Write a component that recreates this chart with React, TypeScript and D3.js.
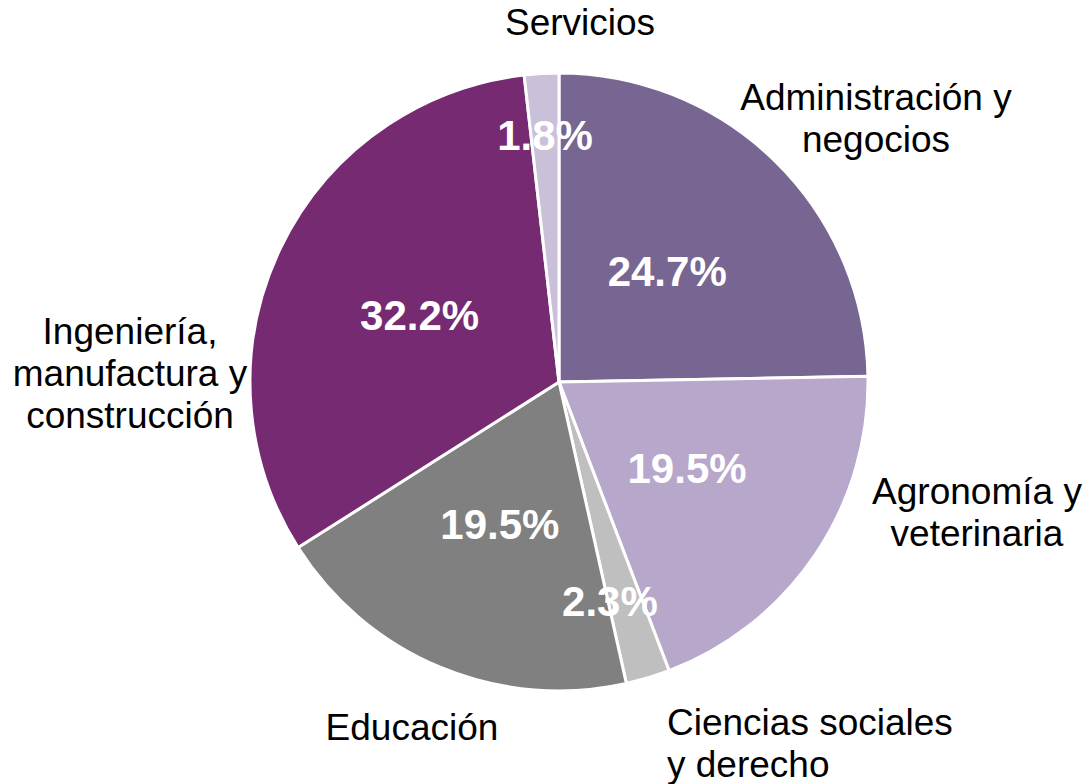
import React from "react";
import * as d3 from "d3";

const categories = [
  "Administración y negocios",
  "Agronomía y veterinaria",
  "Ciencias sociales y derecho",
  "Educación",
  "Ingeniería, manufactura y construcción",
  "Servicios",
];
const labelLines = [
  ["Administración y", "negocios"],
  ["Agronomía y", "veterinaria"],
  ["Ciencias sociales", "y derecho"],
  ["Educación"],
  ["Ingeniería,", "manufactura y", "construcción"],
  ["Servicios"],
];
const values = [24.7, 19.5, 2.3, 19.5, 32.2, 1.8];
const colors = ["#776592", "#b7a7cb", "#bfbfbf", "#808080", "#762a71", "#cbc0da"];

// layout (not data): percent label radius factor, category label center (dx,dy from pie center), anchor
const pctRadius = [0.5, 0.5, 0.73, 0.5, 0.5, 0.8];
const pctNudge = [[0, 0], [0, 0], [-14, 3], [0, 0], [0, 0], [0, 0]];
const catLayout: { dx: number; dy: number; anchor: string }[] = [
  { dx: 317, dy: -264, anchor: "middle" },
  { dx: 418, dy: 130, anchor: "middle" },
  { dx: 108, dy: 361, anchor: "start" },
  { dx: -147, dy: 345, anchor: "middle" },
  { dx: -429, dy: -9, anchor: "middle" },
  { dx: 21, dy: -360, anchor: "middle" },
];

export default function App() {
  const W = 1087;
  const H = 784;
  const cx = 559;
  const cy = 382;
  const R = 309;
  const pie = d3.pie<number>().sort(null).value((d) => d);
  const arcs = pie(values);
  const arc = d3.arc<d3.PieArcDatum<number>>().innerRadius(0).outerRadius(R);
  const font = "'Liberation Sans', Arial, sans-serif";
  const lineH = 42;
  return (
    <svg width={W} height={H} style={{ position: "absolute", left: 0, top: 0, background: "#fff" }}>
      <g transform={`translate(${cx},${cy})`}>
        {arcs.map((a, i) => (
          <path key={categories[i]} d={arc(a) || ""} fill={colors[i]} stroke="#fff" strokeWidth={3} strokeLinejoin="round" />
        ))}
        {arcs.map((a, i) => {
          const mid = (a.startAngle + a.endAngle) / 2;
          const r = R * pctRadius[i];
          const x = Math.sin(mid) * r + pctNudge[i][0];
          const y = -Math.cos(mid) * r + pctNudge[i][1];
          return (
            <text key={"p" + i} x={x} y={y} dy="0.35em" textAnchor="middle" fill="#fff" fontWeight="bold" fontSize={42} fontFamily={font}>
              {d3.format(".1f")(values[i]) + "%"}
            </text>
          );
        })}
        {labelLines.map((lines, i) => {
          const L = catLayout[i];
          const n = lines.length;
          return (
            <text key={"c" + i} fontSize={37} fontFamily={font} fill="#000" textAnchor={L.anchor}>
              {lines.map((ln, j) => (
                <tspan key={j} x={L.dx} y={L.dy + (j - (n - 1) / 2) * lineH} dy="0.35em">
                  {ln}
                </tspan>
              ))}
            </text>
          );
        })}
      </g>
    </svg>
  );
}
